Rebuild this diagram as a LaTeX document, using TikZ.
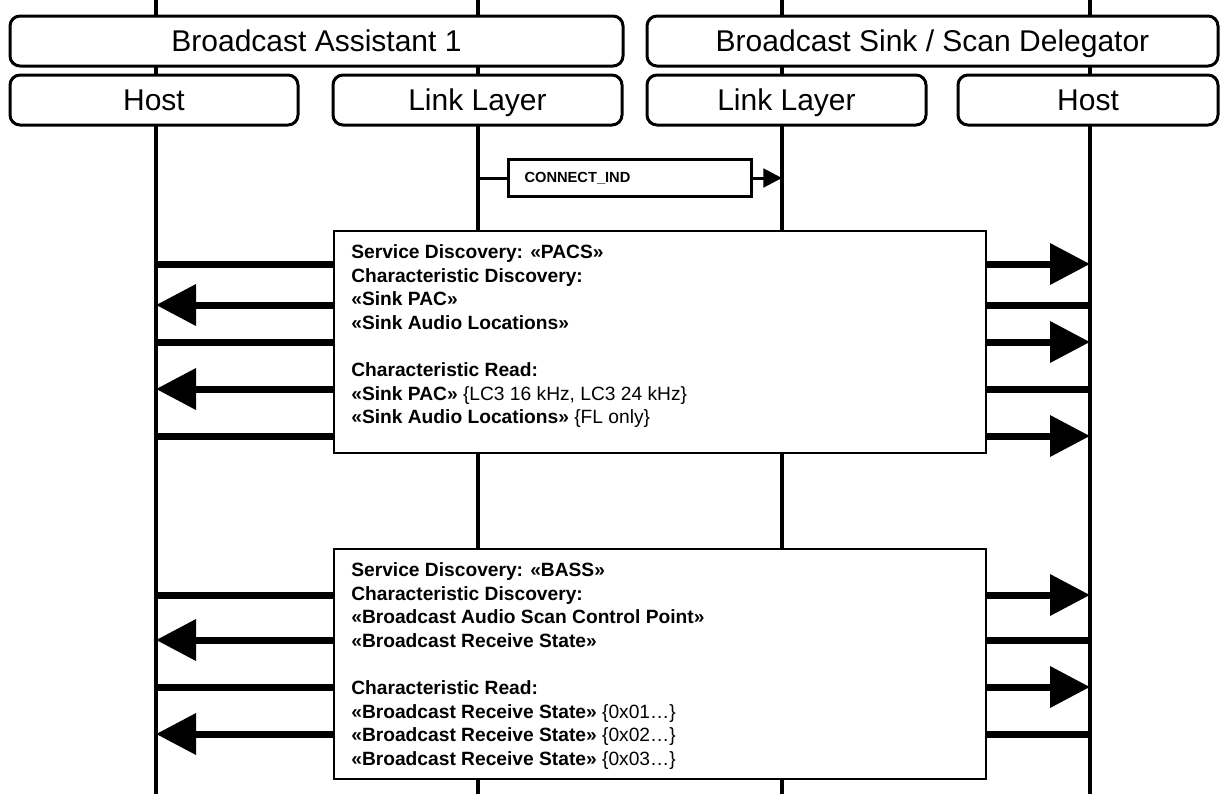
\documentclass[tikz,border=0pt]{standalone}
\usepackage{fontspec}
\setmainfont{Liberation Sans}
\usetikzlibrary{arrows.meta}
\tikzset{
  every picture/.style={x=0.75pt, y=-0.75pt, line width=2pt},
  hdr/.style={draw, fill=white, rounded corners=7.5pt, line width=2.25pt, minimum height=37.5pt, inner sep=0pt, text height=16pt, text depth=0pt, font=\fontsize{22.5}{26}\selectfont},
  life/.style={line width=3pt},
  msg/.style={line width=5.25pt},
  msgtip/.style={-{Triangle[length=30pt, width=30pt]}},
  sig/.style={line width=2.25pt},
  sigbox/.style={draw, fill=white, line width=2.25pt, anchor=west, minimum height=27.75pt, text width=158.25pt, inner xsep=12pt, align=left, font=\fontsize{11}{13}\selectfont\bfseries},
  panel/.style={draw, fill=white, line width=1.5pt, anchor=north west, inner sep=0pt, minimum width=489pt},
  paneltext/.style={anchor=north west, inner sep=0pt, align=left, font=\fontsize{14.4}{17.7}\selectfont\bfseries},
}
\newcommand{\val}[1]{{\mdseries\{#1\}}}

\begin{document}
\begin{tikzpicture}
  \useasboundingbox (0,0) rectangle (1225,794);
  % lifelines
  \foreach \n/\x in {hA/156, lA/478, lB/782, hB/1090} {
    \coordinate (\n-t) at (\x,0);
    \coordinate (\n-b) at (\x,794);
    \draw[life] (\n-t) -- (\n-b);
  }
  \coordinate (hA) at (156,0);
  \coordinate (lA) at (478,0);
  \coordinate (lB) at (782,0);
  \coordinate (hB) at (1090,0);

  % headers
  \node[hdr, minimum width=459.75pt] (asst) at (316.5,41) {Broadcast Assistant 1};
  \node[hdr, minimum width=428.25pt] (sink) at (932.5,41) {Broadcast Sink / Scan Delegator};
  \node[hdr, minimum width=216pt] (hostA) at (154,100) {Host};
  \node[hdr, minimum width=216.75pt] (llA) at (477.5,100) {Link Layer};
  \node[hdr, minimum width=209.25pt] (llB) at (786.5,100) {Link Layer};
  \node[hdr, minimum width=195pt] (hostB) at (1088,100) {Host};

  % connection
  \node[sigbox] (conn) at (507,178) {CONNECT\_IND};
  \draw[sig] (lA |- conn.west) -- (conn.west);
  \draw[sig, -{Triangle[length=14pt, width=14pt]}] (conn.east) -- (lB |- conn.east);

  % PACS discovery
  \node[panel, minimum height=166.5pt] (pacs) at (333,230) {};
  \node[paneltext] (pacstext) at (350,243.5) {Service Discovery: «PACS»\\
    Characteristic Discovery:\\
    «Sink PAC»\\
    «Sink Audio Locations»\\[17.7pt]
    Characteristic Read:\\
    «Sink PAC» \val{LC3 16 kHz, LC3 24 kHz}\\
    «Sink Audio Locations» \val{FL only}};
  \foreach \y in {264, 342, 436} {
    \path (0,\y) coordinate (row);
    \draw[msg] (hA |- row) -- (pacs.west |- row);
    \draw[msg, msgtip] (pacs.east |- row) -- (hB |- row);
  }
  \foreach \y in {305, 389} {
    \path (0,\y) coordinate (row);
    \draw[msg] (hB |- row) -- (pacs.east |- row);
    \draw[msg, msgtip] (pacs.west |- row) -- (hA |- row);
  }

  % BASS discovery
  \node[panel, minimum height=172.5pt] (bass) at (333,548) {};
  \node[paneltext] (basstext) at (350,561.5) {Service Discovery: «BASS»\\
    Characteristic Discovery:\\
    «Broadcast Audio Scan Control Point»\\
    «Broadcast Receive State»\\[17.7pt]
    Characteristic Read:\\
    «Broadcast Receive State» \val{0x01…}\\
    «Broadcast Receive State» \val{0x02…}\\
    «Broadcast Receive State» \val{0x03…}};
  \foreach \y in {595, 687} {
    \path (0,\y) coordinate (row);
    \draw[msg] (hA |- row) -- (bass.west |- row);
    \draw[msg, msgtip] (bass.east |- row) -- (hB |- row);
  }
  \foreach \y in {640, 734} {
    \path (0,\y) coordinate (row);
    \draw[msg] (hB |- row) -- (bass.east |- row);
    \draw[msg, msgtip] (bass.west |- row) -- (hA |- row);
  }
\end{tikzpicture}
\end{document}
